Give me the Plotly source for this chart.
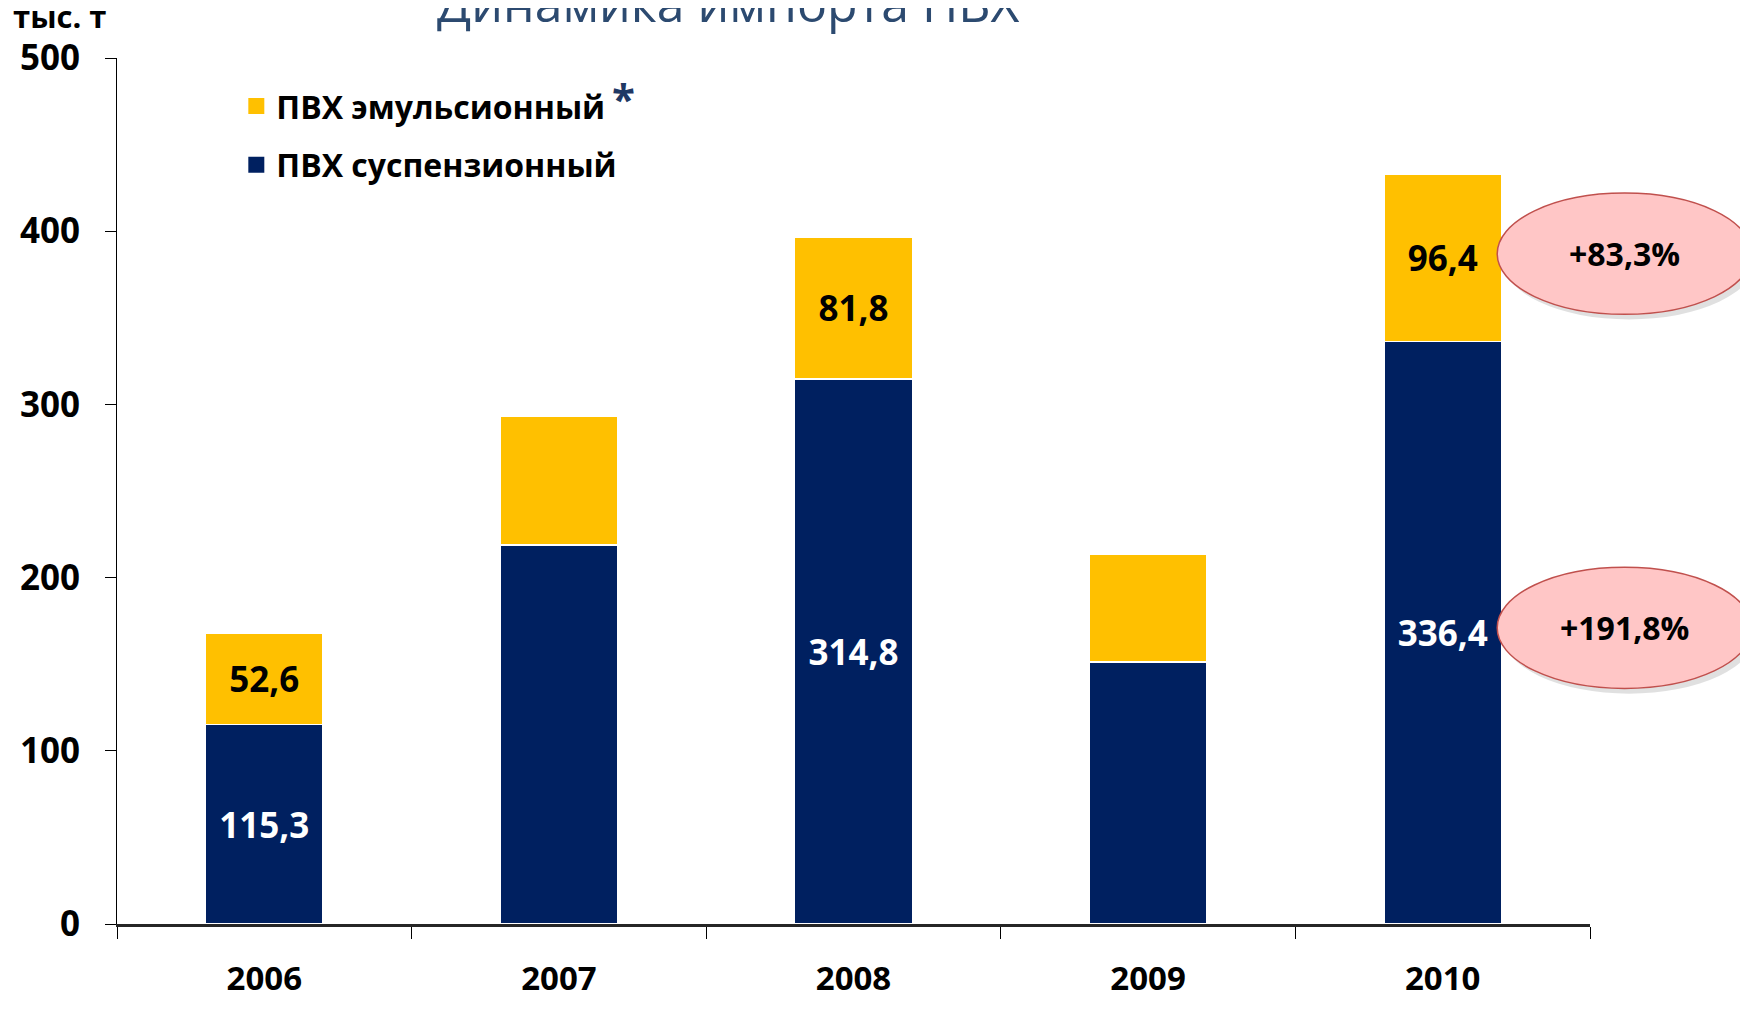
import plotly.graph_objects as go

# data (thousand tonnes)
years = ['2006', '2007', '2008', '2009', '2010']
suspension = [115.3, 218.8, 314.8, 151.2, 336.4]
emulsion = [52.6, 74.6, 81.8, 62.4, 96.4]
show_label = [True, False, True, False, True]

FONT = 'Open Sans'
NAVY = '#002060'
YELLOW = '#FFC000'


def fmt(v):
    return '{:.1f}'.format(v).replace('.', ',')


susp_text = [fmt(v) if s else '' for v, s in zip(suspension, show_label)]
emul_text = [fmt(v) if s else '' for v, s in zip(emulsion, show_label)]

# growth 2006 -> 2010
growth_emul = (emulsion[-1] / emulsion[0] - 1) * 100
growth_susp = (suspension[-1] / suspension[0] - 1) * 100

fig = go.Figure()

fig.add_trace(go.Bar(x=years, y=suspension, name='ПВХ суспензионный', showlegend=False,
                     marker=dict(color=NAVY, line=dict(color='white', width=1.5)),
                     text=susp_text, textposition='inside', insidetextanchor='middle',
                     constraintext='none', textangle=0,
                     textfont=dict(family=FONT, size=35, color='white', weight=700)))
fig.add_trace(go.Bar(x=years, y=emulsion, name='ПВХ эмульсионный', showlegend=False,
                     marker=dict(color=YELLOW, line=dict(color='white', width=1.5)),
                     text=emul_text, textposition='inside', insidetextanchor='middle',
                     constraintext='none', textangle=0,
                     textfont=dict(family=FONT, size=35, color='black', weight=700)))

# legend entries with bigger square swatches
for name, col, rank, grp in [('ПВХ эмульсионный', YELLOW, 1, 'e'),
                             ('ПВХ суспензионный', NAVY, 2, 's')]:
    fig.add_trace(go.Scatter(x=[None], y=[None], mode='markers', name=name,
                             legendrank=rank, legendgroup=grp,
                             marker=dict(symbol='square', size=16, color=col)))

# growth bubbles on the right
bubbles = [(387, growth_emul), (171, growth_susp)]
half_h = 35
for yc, g in bubbles:
    fig.add_shape(type='circle', xref='paper', yref='y', x0=0.940, x1=1.113,
                  y0=yc - half_h - 3, y1=yc + half_h - 3,
                  fillcolor='rgba(0,0,0,0.12)', line=dict(width=0), layer='above')
    fig.add_shape(type='circle', xref='paper', yref='y', x0=0.937, x1=1.110,
                  y0=yc - half_h, y1=yc + half_h,
                  fillcolor='#FFC6C6', line=dict(color='#C0504D', width=1.5), layer='above')
    fig.add_annotation(x=1.0235, xref='paper', xanchor='center', y=yc, yref='y',
                       yanchor='middle', showarrow=False, text='+' + fmt(g) + '%',
                       font=dict(family=FONT, size=32, color='black', weight=700))

# title (partly cut off at the top)
fig.add_annotation(x=0.415, xref='paper', xanchor='center', y=1.022, yref='paper',
                   yanchor='bottom', showarrow=False, text='Динамика импорта ПВХ',
                   font=dict(family=FONT, size=50, color='#2C4A70'))
fig.add_annotation(x=-0.072, xref='paper', xanchor='left', y=1.049, yref='paper',
                   yanchor='middle', showarrow=False, text='тыс. т',
                   font=dict(family=FONT, size=31, color='black', weight=700))
fig.add_annotation(x=0.344, xref='paper', xanchor='center', y=0.954, yref='paper',
                   yanchor='middle', showarrow=False, text='*',
                   font=dict(family=FONT, size=42, color='#1F3864', weight=700))

fig.update_layout(
    width=1732, height=993, autosize=False,
    margin=dict(l=109, r=150, t=50, b=77),
    barmode='stack', bargap=0.6,
    plot_bgcolor='white', paper_bgcolor='white',
    font=dict(family=FONT, color='black'),
    legend=dict(x=0.081, y=0.976, xanchor='left', yanchor='top',
                tracegroupgap=14,
                font=dict(family=FONT, size=32, color='black', weight=700),
                bgcolor='rgba(0,0,0,0)'),
    xaxis=dict(type='category', tickson='boundaries', ticks='outside', ticklen=12,
               tickcolor='black', tickwidth=1, showline=True, linecolor='#262626',
               linewidth=2.5, showgrid=False, ticklabelstandoff=24, automargin=False,
               tickfont=dict(family=FONT, size=33, color='black', weight=700)),
    yaxis=dict(range=[0, 500], dtick=100, ticks='outside', ticklen=11,
               tickcolor='black', showline=True, linecolor='black', linewidth=1,
               showgrid=False, zeroline=False, ticklabelstandoff=18, automargin=False,
               tickfont=dict(family=FONT, size=35, color='black', weight=700)),
)

fig.write_html('out.html')
